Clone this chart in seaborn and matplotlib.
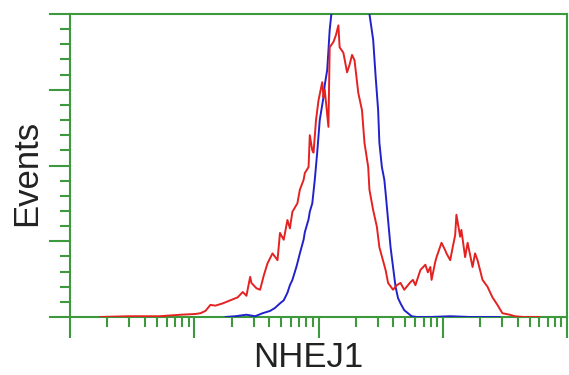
import numpy as np
import pandas as pd
import matplotlib
matplotlib.use("Agg")
import matplotlib.pyplot as plt
import seaborn as sns
from matplotlib.ticker import LogLocator, MultipleLocator, NullFormatter

sns.set_style("white")
plt.rcParams["font.family"] = ["Liberation Sans", "DejaVu Sans"]

# ---- data (log10 fluorescence intensity, events in axis units) ----
red_log = [0.24, 0.48, 0.72, 0.89, 1.01, 1.05, 1.09, 1.13, 1.17,
           1.23, 1.29, 1.35, 1.39, 1.42, 1.45, 1.46, 1.50, 1.53, 1.56,
           1.59, 1.63, 1.67, 1.69, 1.72, 1.75, 1.77, 1.79, 1.83, 1.85,
           1.88, 1.89, 1.92, 1.93, 1.95, 1.96, 1.98, 2.00, 2.03, 2.04,
           2.05, 2.08, 2.09, 2.12, 2.14, 2.16, 2.17, 2.20, 2.23, 2.25,
           2.27, 2.29, 2.32, 2.35, 2.37, 2.40, 2.41, 2.44, 2.47, 2.49,
           2.54, 2.56, 2.60, 2.63, 2.66, 2.69, 2.71, 2.74, 2.76, 2.78,
           2.82, 2.86, 2.88, 2.90, 2.91, 2.94, 2.95, 2.99, 3.02, 3.03,
           3.06, 3.08, 3.10, 3.11, 3.14, 3.15, 3.18, 3.20, 3.24, 3.26,
           3.28, 3.32, 3.36, 3.40, 3.44, 3.48, 3.54, 3.58, 3.65, 3.78]
red_events = [0, 0.01, 0.01, 0.03, 0.04, 0.05, 0.08, 0.16, 0.15,
              0.18, 0.22, 0.26, 0.33, 0.28, 0.53, 0.45, 0.38, 0.36, 0.55,
              0.71, 0.84, 0.75, 1.11, 1.02, 1.28, 1.17, 1.39, 1.50, 1.68,
              1.81, 1.90, 1.98, 2.40, 2.20, 2.17, 2.60, 2.86, 3.10, 2.90,
              3.00, 2.51, 3.56, 3.63, 3.72, 3.85, 3.56, 3.49, 3.23, 3.33,
              3.46, 3.39, 2.96, 2.73, 2.30, 1.98, 1.68, 1.41, 1.19, 0.92,
              0.62, 0.45, 0.36, 0.42, 0.45, 0.36, 0.40, 0.46, 0.49, 0.42,
              0.62, 0.69, 0.59, 0.66, 0.49, 0.73, 0.79, 0.98, 0.88, 0.84,
              0.75, 0.92, 1.08, 1.35, 1.06, 1.15, 0.79, 0.98, 0.66, 0.84,
              0.75, 0.49, 0.40, 0.26, 0.16, 0.05, 0.03, 0.01, 0, 0]

blue_log = [1.25, 1.33, 1.42, 1.49, 1.55, 1.61,
            1.65, 1.69, 1.72, 1.75, 1.77, 1.79, 1.82, 1.83, 1.85, 1.88,
            1.89, 1.92, 1.93, 1.95, 1.97, 1.99, 2.01, 2.04, 2.05, 2.07,
            2.08, 2.09, 2.11, 2.25, 2.40, 2.41, 2.44, 2.46, 2.48, 2.49,
            2.51, 2.53, 2.54, 2.56, 2.58, 2.60, 2.62, 2.64, 2.66, 2.69,
            2.72, 2.75, 2.79, 2.90, 3.06, 3.22, 3.46]
blue_events = [0, 0.01, 0.03, 0.01, 0.05, 0.08,
               0.12, 0.18, 0.22, 0.32, 0.42, 0.49, 0.65, 0.71, 0.84, 1.02,
               1.12, 1.29, 1.39, 1.50, 1.81, 2.18, 2.60, 2.90, 3.06, 3.26,
               3.52, 3.79, 4.10, 4.60, 4.10, 4.00, 3.66, 3.17, 2.73, 2.30,
               1.98, 1.81, 1.64, 1.28, 0.92, 0.66, 0.40, 0.25, 0.18, 0.09,
               0.05, 0.01, 0, 0, 0.01, 0, 0]

samples = ["Control", "NHEJ1"]
colors = {"Control": "#2222cc", "NHEJ1": "#e42222"}

df = pd.concat([
    pd.DataFrame({"intensity": 10 ** np.array(blue_log), "events": blue_events, "sample": "Control"}),
    pd.DataFrame({"intensity": 10 ** np.array(red_log), "events": red_events, "sample": "NHEJ1"}),
], ignore_index=True)

green = "#3c9a3c"

fig = plt.figure(figsize=(5.69, 3.75), dpi=100)
ax = fig.add_axes([70 / 569, 1 - 317 / 375, 497 / 569, 303 / 375])

sns.lineplot(data=df, x="intensity", y="events", hue="sample", hue_order=samples,
             palette=colors, estimator=None, sort=False, linewidth=1.4,
             legend=False, ax=ax, zorder=3)

ax.set_xscale("log")
ax.set_xlim(1, 1e4)
ax.set_ylim(0, 4)

ax.xaxis.set_major_locator(LogLocator(base=10, numticks=10))
ax.xaxis.set_minor_locator(LogLocator(base=10, subs=np.arange(2, 10), numticks=20))
ax.xaxis.set_major_formatter(NullFormatter())
ax.xaxis.set_minor_formatter(NullFormatter())
ax.yaxis.set_major_locator(MultipleLocator(1))
ax.yaxis.set_minor_locator(MultipleLocator(0.2))
ax.yaxis.set_major_formatter(NullFormatter())

ax.tick_params(axis="both", which="both", direction="out", color=green, width=1.5,
               bottom=True, left=True, top=False, right=False,
               labelbottom=False, labelleft=False)
ax.tick_params(axis="both", which="major", length=15)
ax.tick_params(axis="both", which="minor", length=7)

for s in ax.spines.values():
    s.set_visible(True)
    s.set_color(green)
    s.set_linewidth(1.5)

ax.set_xlabel("NHEJ1", fontsize=25, color="#222222")
ax.set_ylabel("Events", fontsize=25, color="#222222")
ax.xaxis.set_label_coords(0.48, -0.079)
ax.yaxis.set_label_coords(-0.055, 0.475)

fig.savefig("out.png", dpi=100)
